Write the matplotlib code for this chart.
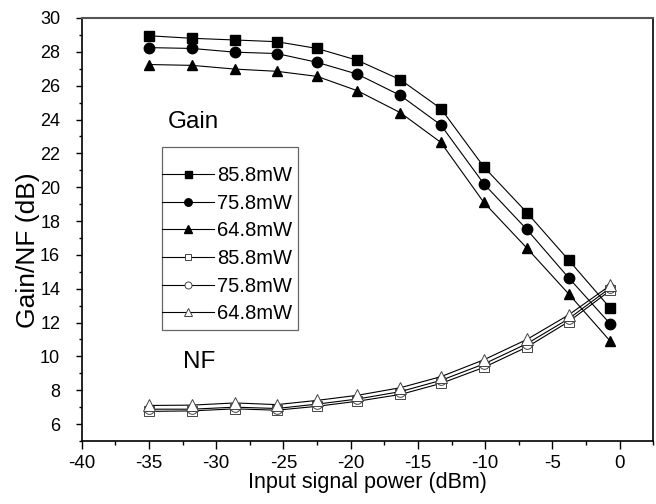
import matplotlib
matplotlib.use("Agg")
import matplotlib.pyplot as plt
from matplotlib.ticker import MultipleLocator
from matplotlib.patches import Rectangle

plt.rcParams['font.family'] = ['Liberation Sans', 'DejaVu Sans']
plt.rcParams['axes.unicode_minus'] = False

x = [-35, -31.8, -28.6, -25.5, -22.5, -19.5, -16.3, -13.3, -10.1, -6.9, -3.8, -0.7]

gain_858 = [28.95, 28.8, 28.7, 28.6, 28.2, 27.5, 26.35, 24.65, 21.2, 18.5, 15.7, 12.85]
gain_758 = [28.25, 28.2, 27.98, 27.9, 27.38, 26.68, 25.42, 23.68, 20.2, 17.5, 14.65, 11.92]
gain_648 = [27.25, 27.2, 26.98, 26.85, 26.55, 25.7, 24.4, 22.65, 19.1, 16.4, 13.7, 10.9]

nf_858 = [6.75, 6.78, 6.9, 6.82, 7.05, 7.35, 7.75, 8.4, 9.35, 10.55, 12.05, 13.9]
nf_758 = [6.88, 6.88, 7.0, 6.92, 7.18, 7.48, 7.92, 8.58, 9.55, 10.75, 12.22, 14.05]
nf_648 = [7.1, 7.12, 7.25, 7.15, 7.4, 7.7, 8.15, 8.8, 9.8, 11.0, 12.45, 14.2]

labels = ['85.8mW', '75.8mW', '64.8mW', '85.8mW', '75.8mW', '64.8mW']

fig = plt.figure(figsize=(6.56, 5.04), dpi=100)
ax = fig.add_axes([0.1245, 0.125, 0.8714, 0.8393])

lw = 0.8
ms = 7
ax.plot(x, gain_858, '-s', color='black', lw=lw, ms=ms, mfc='black', mec='black', label=labels[0])
ax.plot(x, gain_758, '-o', color='black', lw=lw, ms=ms + 0.5, mfc='black', mec='black', label=labels[1])
ax.plot(x, gain_648, '-^', color='black', lw=lw, ms=ms + 0.5, mfc='black', mec='black', label=labels[2])
ax.plot(x, nf_858, '-s', color='black', lw=lw, ms=ms - 0.5, mfc='white', mec='#444444', mew=0.7, label=labels[3])
ax.plot(x, nf_758, '-o', color='black', lw=lw, ms=ms, mfc='white', mec='#444444', mew=0.7, label=labels[4])
ax.plot(x, nf_648, '-^', color='black', lw=lw, ms=ms + 1, mfc='white', mec='#444444', mew=0.7, label=labels[5])

ax.set_xlim(-40, 2.5)
ax.set_ylim(5, 30)
ax.xaxis.set_major_locator(MultipleLocator(5))
ax.xaxis.set_minor_locator(MultipleLocator(2.5))
ax.yaxis.set_minor_locator(MultipleLocator(1))
ax.set_yticks(range(6, 31, 2))
ax.tick_params(which='both', direction='out', top=False, right=False, width=1)
ax.tick_params(axis='x', which='major', length=5.8, labelsize=13.5, pad=4)
ax.tick_params(axis='x', which='minor', length=3)
ax.tick_params(axis='y', which='major', length=4.5, labelsize=13, pad=11)
ax.tick_params(axis='y', which='minor', length=2.5)
for s in ['left', 'bottom', 'right']:
    ax.spines[s].set_linewidth(1.2)
    ax.spines[s].set_color('black')
ax.spines['top'].set_color('#555555')
ax.spines['top'].set_linewidth(1.5)

ax.set_xlabel('Input signal power (dBm)', fontsize=15.5, labelpad=0)
ax.set_ylabel('Gain/NF (dB)', fontsize=19)
ax.yaxis.set_label_coords(-0.073, 0.45)

ax.text(-33.57, 23.49, 'Gain', fontsize=17.5, ha='left', va='baseline')
ax.text(-32.45, 9.29, 'NF', fontsize=17.5, ha='left', va='baseline')

ax.add_patch(Rectangle((0.1405, 0.2624), 0.3784 - 0.1405, 0.695 - 0.2624,
                       transform=ax.transAxes, fill=False, edgecolor='#666666',
                       linewidth=0.9, zorder=3))
leg = ax.legend(loc='upper left', bbox_to_anchor=(0.1405, 0.65), fontsize=14.5,
                frameon=False, handlelength=2.6, handletextpad=0.15,
                labelspacing=0.43, borderpad=0, borderaxespad=0,
                markerscale=0.72)

fig.savefig('out.png', dpi=100)
